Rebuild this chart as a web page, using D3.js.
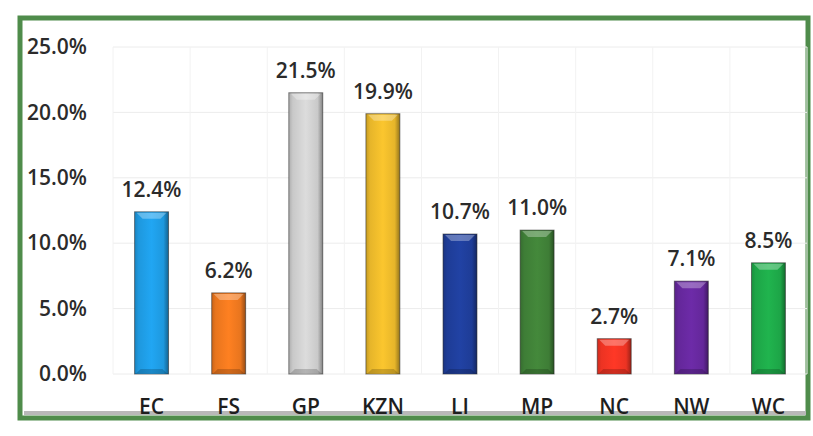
<!DOCTYPE html>
<html><head><meta charset="utf-8">
<script src="https://cdn.jsdelivr.net/npm/d3@7"></script>
<style>body{margin:0;background:#fff}svg{display:block}</style>
</head><body>
<svg id="c" width="813" height="436"></svg>
<script>
const categories = ["EC","FS","GP","KZN","LI","MP","NC","NW","WC"];
const values = [12.4, 6.2, 21.5, 19.9, 10.7, 11.0, 2.7, 7.1, 8.5];
const colors = ["#1E98DE","#E8751E","#C9C9C9","#E6B52A","#1E3C96","#3E7D36","#EC3323","#64279A","#1DA547"];
const yTicks = [0, 5, 10, 15, 20, 25];

const svg = d3.select("#c");
const W = 813, H = 436;
const m = {left: 113, right: 6, top: 47, bottom: 62};
const plotR = W - m.right, base = H - m.bottom;

// frame
svg.append("rect").attr("x",20).attr("y",18).attr("width",788).attr("height",400)
  .attr("fill","#fff").attr("stroke","#4F8C4B").attr("stroke-width",5);
svg.append("line").attr("x1",24).attr("x2",806).attr("y1",413).attr("y2",413)
  .attr("stroke","#b8b8b8").attr("stroke-width",4);

const x = d3.scaleBand().domain(categories).range([m.left, plotR]).paddingInner(0.56).paddingOuter(0.28);
const y = d3.scaleLinear().domain([0,25]).range([base, m.top]);

// gridlines
svg.append("g").selectAll("line").data(yTicks).join("line")
  .attr("x1", m.left).attr("x2", plotR).attr("y1", d=>y(d)).attr("y2", d=>y(d))
  .attr("stroke","#ececec").attr("stroke-width",1);
const step = x.step();
svg.append("g").selectAll("line").data(d3.range(categories.length+1)).join("line")
  .attr("x1", i=> x(categories[0]) - x.paddingOuter()*step + i*step)
  .attr("x2", i=> x(categories[0]) - x.paddingOuter()*step + i*step)
  .attr("y1", y(25)).attr("y2", base)
  .attr("stroke","#f2f2f2").attr("stroke-width",1);

// y axis labels
const FONT = "Open Sans, sans-serif";
const yAxis = d3.axisLeft(y).tickValues(yTicks).tickFormat(d=>d.toFixed(1)+"%").tickSize(0).tickPadding(0);
const ya = svg.append("g").attr("transform",`translate(${m.left-26},0)`).call(yAxis);
ya.select(".domain").remove();
ya.selectAll("text").attr("font-family",FONT).attr("font-size",21).attr("font-weight","600").attr("fill","#2b2b2b");

// x axis labels
const xAxis = d3.axisBottom(x).tickSize(0).tickPadding(0);
const xa = svg.append("g").attr("transform",`translate(0,${base+25})`).call(xAxis);
xa.select(".domain").remove();
xa.selectAll("text").attr("font-family",FONT).attr("font-size",21).attr("font-weight","600").attr("fill","#1e1e1e");

// gradients
const defs = svg.append("defs");
colors.forEach((c,i)=>{
  const g = defs.append("linearGradient").attr("id","g"+i).attr("x1","0").attr("x2","1").attr("y1","0").attr("y2","0");
  const dk = d3.color(c).darker(1.2), md = d3.color(c), lt = d3.color(c).brighter(0.25);
  g.append("stop").attr("offset","0").attr("stop-color",md.darker(0.4));
  g.append("stop").attr("offset","0.12").attr("stop-color",md);
  g.append("stop").attr("offset","0.5").attr("stop-color",lt);
  g.append("stop").attr("offset","0.85").attr("stop-color",md);
  g.append("stop").attr("offset","1").attr("stop-color",dk);
});

const bars = svg.append("g").selectAll("g").data(categories).join("g");
bars.append("rect")
  .attr("x", d=>x(d)).attr("width", x.bandwidth())
  .attr("y", (d,i)=>y(values[i])).attr("height",(d,i)=>base - y(values[i]))
  .attr("fill",(d,i)=>`url(#g${i})`).attr("stroke","#222").attr("stroke-opacity",0.55).attr("stroke-width",1);
// top bevel highlight
bars.append("path")
  .attr("d",(d,i)=>{
    const x0 = x(d), w = x.bandwidth(), yt = y(values[i]);
    return `M${x0+2},${yt+1} L${x0+w-2},${yt+1} L${x0+w-8},${yt+7} L${x0+8},${yt+7} Z`;
  })
  .attr("fill","#fff").attr("opacity",0.3);
bars.append("path")
  .attr("d",(d,i)=>{
    const x0 = x(d), w = x.bandwidth();
    return `M${x0+2},${base-1} L${x0+w-2},${base-1} L${x0+w-6},${base-5} L${x0+6},${base-5} Z`;
  })
  .attr("fill","#000").attr("opacity",0.18);

// data labels
svg.append("g").selectAll("text").data(categories).join("text")
  .attr("x", d=>x(d)+x.bandwidth()/2).attr("y",(d,i)=>y(values[i]) - 15)
  .attr("text-anchor","middle").attr("font-family",FONT)
  .attr("font-size",21).attr("font-weight","600").attr("fill","#2b2b2b")
  .text((d,i)=>values[i].toFixed(1)+"%");
</script>
</body></html>
